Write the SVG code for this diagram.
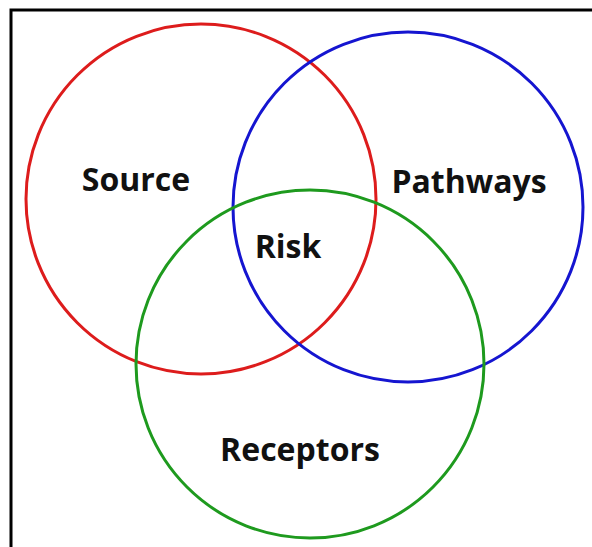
<svg xmlns="http://www.w3.org/2000/svg" width="592" height="547" viewBox="0 0 592 547">
<style>
.c{fill:none;stroke-width:3}
.t{font-family:"Open Sans","Liberation Sans",sans-serif;font-weight:bold;font-size:32px;fill:#111;text-anchor:middle}
</style>
<rect width="592" height="547" fill="#fff"/>
<path d="M11 547V10H592" fill="none" stroke="#000" stroke-width="3"/>
<g id="source"><circle class="c" cx="201" cy="199" r="175" stroke="#dd1c1c"/><text class="t" x="136" y="191">Source</text></g>
<g id="pathways"><circle class="c" cx="408" cy="207" r="175" stroke="#1515d0"/><text class="t" x="469" y="193">Pathways</text></g>
<g id="receptors"><circle class="c" cx="310" cy="364" r="174" stroke="#1e9a1e"/><text class="t" x="300" y="461">Receptors</text></g>
<g id="risk"><text class="t" x="288" y="258">Risk</text></g>
<g id="connectors"/>
</svg>
